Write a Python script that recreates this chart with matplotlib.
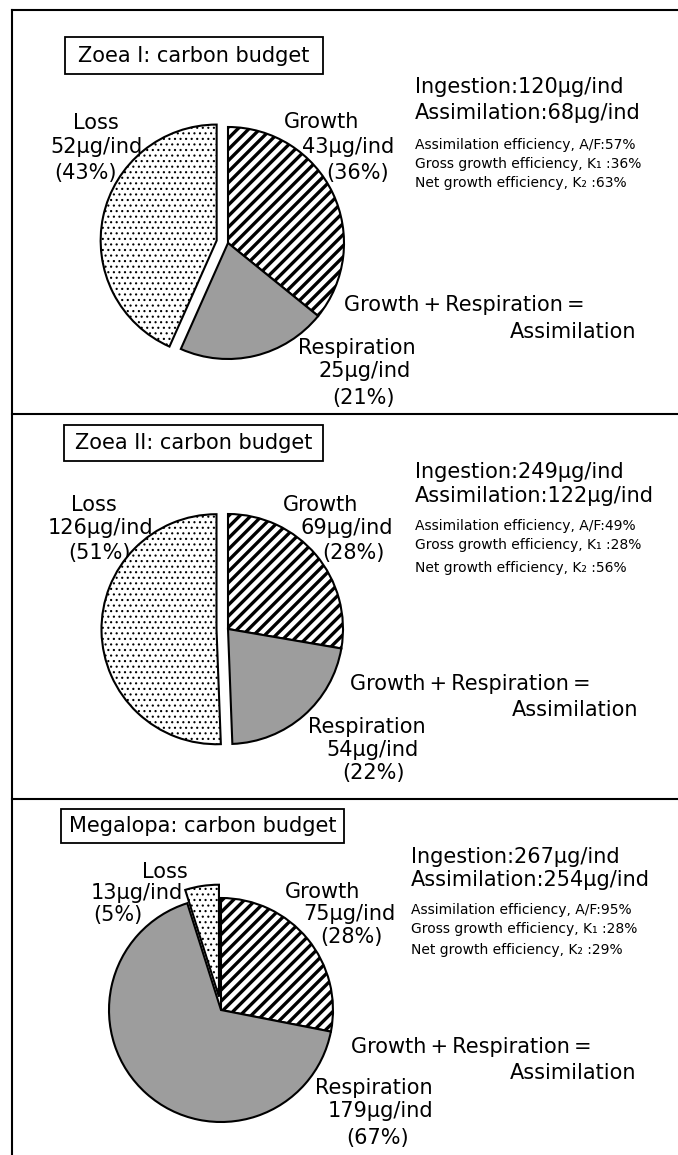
import matplotlib.pyplot as plt
from matplotlib.patches import Rectangle

# carbon budget per larval stage (ug C per individual)
titles = ['Zoea I: carbon budget', 'Zoea II: carbon budget', 'Megalopa: carbon budget']
growth = [43, 69, 75]
respiration = [25, 54, 179]
loss = [52, 126, 13]
growth_pct = [36, 28, 28]
resp_pct = [21, 22, 67]
loss_pct = [43, 51, 5]
ingestion = [120, 249, 267]
assimilation = [68, 122, 254]
assim_eff = [57, 49, 95]
gross_eff = [36, 28, 28]
net_eff = [63, 56, 29]

W, H = 678, 1155

# layout, in pixels from the top left corner
layout = [
    dict(pie=(228, 243, 116), explode=0.1, box=(65, 37, 323, 74),
         loss=([96, 96, 86], [123, 147, 173]),
         grow=([322, 348, 358], [122, 147, 173]),
         resp=([357, 365, 363], [348, 371, 398]),
         info=(415, [87, 113, 145, 164, 183]),
         eq=((344, 305), (510, 332))),
    dict(pie=(228, 629, 115), explode=0.1, box=(64, 425, 323, 461),
         loss=([94, 101, 100], [505, 528, 553]),
         grow=([321, 347, 353], [505, 528, 553]),
         resp=([367, 372, 373], [727, 750, 773]),
         info=(415, [472, 496, 526, 545, 568]),
         eq=((350, 684), (512, 710))),
    dict(pie=(221, 1010, 112), explode=0.12, box=(61, 809, 344, 843),
         loss=([165, 137, 118], [872, 893, 915]),
         grow=([323, 349, 351], [892, 914, 937]),
         resp=([374, 381, 378], [1088, 1111, 1138]),
         info=(411, [857, 880, 910, 929, 950]),
         eq=((351, 1047), (510, 1073))),
]
separators = [414, 799]

fig = plt.figure(figsize=(W / 100, H / 100), dpi=100)
bg = fig.add_axes([0, 0, 1, 1])
bg.set_xlim(0, W)
bg.set_ylim(H, 0)
bg.axis('off')

# frame lines
bg.plot([12, W], [10, 10], color='black', lw=1.5)
bg.plot([12, 12], [10, H], color='black', lw=1.5)
for y in separators:
    bg.plot([12, W], [y, y], color='black', lw=1.5)

big = 15
small = 10


def lines(xs, ys, texts):
    for x, y, t in zip(xs, ys, texts):
        bg.text(x, y, t, ha='center', va='center', fontsize=big)


def hatch(w, pattern, lw):
    w.set_hatch(pattern)
    if hasattr(w, 'set_hatch_linewidth'):
        w.set_hatch_linewidth(lw)
    else:
        plt.rcParams['hatch.linewidth'] = lw


for i, lay in enumerate(layout):
    cx, cy, r = lay['pie']
    pad = 1.35
    ax = fig.add_axes([(cx - pad * r) / W, 1 - (cy + pad * r) / H,
                       2 * pad * r / W, 2 * pad * r / H])
    wedges, _ = ax.pie([growth[i], respiration[i], loss[i]], startangle=90,
                       counterclock=False, explode=[0, 0, lay['explode']],
                       colors=['white', '#9d9d9d', 'white'],
                       wedgeprops=dict(edgecolor='black', linewidth=1.5))
    hatch(wedges[0], '///', 2.4)
    hatch(wedges[2], '...', 0.8)
    ax.set_xlim(-pad, pad)
    ax.set_ylim(-pad, pad)
    ax.axis('off')

    x0, y0, x1, y1 = lay['box']
    bg.add_patch(Rectangle((x0, y0), x1 - x0, y1 - y0, fill=False,
                           edgecolor='black', lw=1.3))
    bg.text((x0 + x1) / 2, (y0 + y1) / 2, titles[i], ha='center',
            va='center', fontsize=big)

    lines(*lay['loss'], ['Loss', f'{loss[i]}µg/ind', f'({loss_pct[i]}%)'])
    lines(*lay['grow'], ['Growth', f'{growth[i]}µg/ind', f'({growth_pct[i]}%)'])
    lines(*lay['resp'], ['Respiration', f'{respiration[i]}µg/ind',
                         f'({resp_pct[i]}%)'])

    ix, iys = lay['info']
    bg.text(ix, iys[0], f'Ingestion:{ingestion[i]}µg/ind', va='center',
            fontsize=big)
    bg.text(ix, iys[1], f'Assimilation:{assimilation[i]}µg/ind',
            va='center', fontsize=big)
    bg.text(ix, iys[2], f'Assimilation efficiency, A/F:{assim_eff[i]}%',
            va='center', fontsize=small)
    bg.text(ix, iys[3], f'Gross growth efficiency, K₁ :{gross_eff[i]}%',
            va='center', fontsize=small)
    bg.text(ix, iys[4], f'Net growth efficiency, K₂ :{net_eff[i]}%',
            va='center', fontsize=small)

    (ex, ey), (ax2, ay2) = lay['eq']
    bg.text(ex, ey, 'Growth\u2009+\u2009Respiration\u2009=', va='center',
            fontsize=big)
    bg.text(ax2, ay2, 'Assimilation', va='center', fontsize=big)

fig.savefig('out.png', dpi=100)
